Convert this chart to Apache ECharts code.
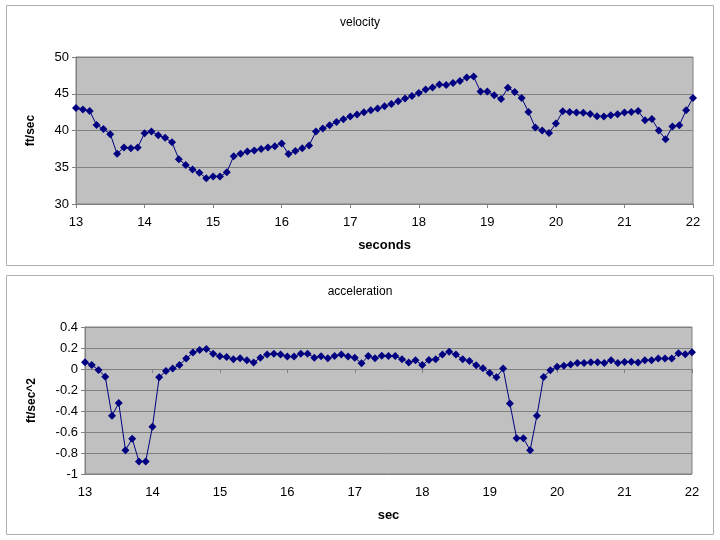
<!DOCTYPE html>
<html>
<head>
<meta charset="utf-8">
<script src="https://cdn.jsdelivr.net/npm/echarts@6/dist/echarts.min.js"></script>
<style>html,body{margin:0;padding:0;background:#fff}#c{width:720px;height:540px}</style>
</head>
<body>
<div id="c"></div>
<script>
var times = [13.0,13.1,13.2,13.3,13.4,13.5,13.6,13.7,13.8,13.9,
14.0,14.1,14.2,14.3,14.4,14.5,14.6,14.7,14.8,14.9,
15.0,15.1,15.2,15.3,15.4,15.5,15.6,15.7,15.8,15.9,
16.0,16.1,16.2,16.3,16.4,16.5,16.6,16.7,16.8,16.9,
17.0,17.1,17.2,17.3,17.4,17.5,17.6,17.7,17.8,17.9,
18.0,18.1,18.2,18.3,18.4,18.5,18.6,18.7,18.8,18.9,
19.0,19.1,19.2,19.3,19.4,19.5,19.6,19.7,19.8,19.9,
20.0,20.1,20.2,20.3,20.4,20.5,20.6,20.7,20.8,20.9,
21.0,21.1,21.2,21.3,21.4,21.5,21.6,21.7,21.8,21.9,22.0];

var velocity = [43.07,42.85,42.66,40.76,40.2,39.5,36.82,37.7,37.6,37.7,
39.63,39.86,39.36,39.0,38.4,36.1,35.3,34.7,34.24,33.5,
33.75,33.75,34.33,36.5,36.82,37.14,37.28,37.5,37.7,37.87,
38.23,36.8,37.2,37.6,37.96,39.86,40.27,40.72,41.17,41.54,
41.9,42.17,42.49,42.76,42.99,43.3,43.61,43.98,44.35,44.7,
45.11,45.57,45.84,46.25,46.2,46.47,46.74,47.2,47.34,45.3,
45.3,44.8,44.3,45.8,45.24,44.43,42.53,40.4,40.0,39.67,
40.95,42.62,42.53,42.44,42.4,42.26,41.94,41.9,42.08,42.2,
42.44,42.53,42.66,41.4,41.58,40.0,38.8,40.54,40.72,42.76,44.43];

var acceleration = [0.064,0.038,-0.009,-0.073,-0.446,-0.323,-0.773,-0.665,-0.88,-0.88,
-0.551,-0.079,-0.019,0.004,0.038,0.099,0.156,0.181,0.19,0.146,
0.121,0.114,0.092,0.102,0.083,0.061,0.108,0.137,0.146,0.137,
0.118,0.118,0.146,0.146,0.108,0.121,0.102,0.124,0.137,0.118,
0.108,0.054,0.124,0.102,0.127,0.124,0.124,0.092,0.061,0.083,
0.038,0.086,0.092,0.137,0.165,0.137,0.092,0.076,0.035,0.007,
-0.038,-0.079,0.004,-0.329,-0.659,-0.659,-0.773,-0.446,-0.076,-0.012,
0.022,0.032,0.042,0.057,0.057,0.064,0.064,0.057,0.083,0.057,
0.067,0.07,0.061,0.083,0.083,0.099,0.099,0.099,0.149,0.14,0.159];

var titles = ['velocity', 'acceleration'];
var xNames = ['seconds', 'sec'];
var yNames = ['ft/sec', 'ft/sec^2'];

function pairs(xs, ys) { return xs.map(function (x, i) { return [x, ys[i]]; }); }

var font = 'Liberation Sans, Arial, sans-serif';
var chart = echarts.init(document.getElementById('c'), null, {renderer: 'canvas'});

function xAxis(gi, name) {
  return {
    type: 'value', gridIndex: gi, min: 13, max: 22, interval: 1,
    name: name, nameLocation: 'middle', nameGap: 35,
    nameTextStyle: {fontFamily: font, fontSize: 13, fontWeight: 'bold', color: '#000'},
    axisLine: {show: true, lineStyle: {color: '#808080', width: 1}},
    axisTick: {show: true, length: 4, lineStyle: {color: '#808080'}},
    axisLabel: {fontFamily: font, fontSize: 13, color: '#000', margin: 12},
    splitLine: {show: false}
  };
}
function yAxis(gi, name, min, max, interval, gap) {
  return {
    type: 'value', gridIndex: gi, min: min, max: max, interval: interval,
    name: name, nameLocation: 'middle', nameGap: gap, nameRotate: 90,
    nameTextStyle: {fontFamily: font, fontSize: 12, fontWeight: 'bold', color: '#000'},
    axisLine: {show: true, lineStyle: {color: '#808080', width: 1}},
    axisTick: {show: true, length: 4, lineStyle: {color: '#808080'}},
    axisLabel: {fontFamily: font, fontSize: 13, color: '#000', margin: 7},
    splitLine: {show: true, lineStyle: {color: '#808080', width: 1}}
  };
}
function series(xi, data) {
  return {
    type: 'line', xAxisIndex: xi, yAxisIndex: xi, data: data,
    symbol: 'diamond', symbolSize: 8, showSymbol: true,
    lineStyle: {color: '#000080', width: 1},
    itemStyle: {color: '#000080'},
    animation: false
  };
}

chart.setOption({
  backgroundColor: '#fff',
  animation: false,
  title: [
    {text: titles[0], left: 'center', top: 12, textStyle: {fontFamily: font, fontSize: 12, fontWeight: 'normal', color: '#000'}},
    {text: titles[1], left: 'center', top: 281, textStyle: {fontFamily: font, fontSize: 12, fontWeight: 'normal', color: '#000'}}
  ],
  graphic: [
    {type: 'rect', shape: {x: 6.5, y: 5.5, width: 707, height: 260}, style: {fill: 'none', stroke: '#b0b0b0', lineWidth: 1}, z: -10},
    {type: 'rect', shape: {x: 6.5, y: 275.5, width: 707, height: 259}, style: {fill: 'none', stroke: '#b0b0b0', lineWidth: 1}, z: -10}
  ],
  grid: [
    {left: 76, top: 57, width: 617, height: 147, show: true, backgroundColor: '#C0C0C0', borderColor: '#808080', borderWidth: 1},
    {left: 85, top: 327, width: 607, height: 147, show: true, backgroundColor: '#C0C0C0', borderColor: '#808080', borderWidth: 1}
  ],
  xAxis: [xAxis(0, xNames[0]), xAxis(1, xNames[1])],
  yAxis: [yAxis(0, yNames[0], 30, 50, 5, 39), yAxis(1, yNames[1], -1, 0.4, 0.2, 47)],
  series: [series(0, pairs(times, velocity)), series(1, pairs(times, acceleration))]
});
</script>
</body>
</html>
